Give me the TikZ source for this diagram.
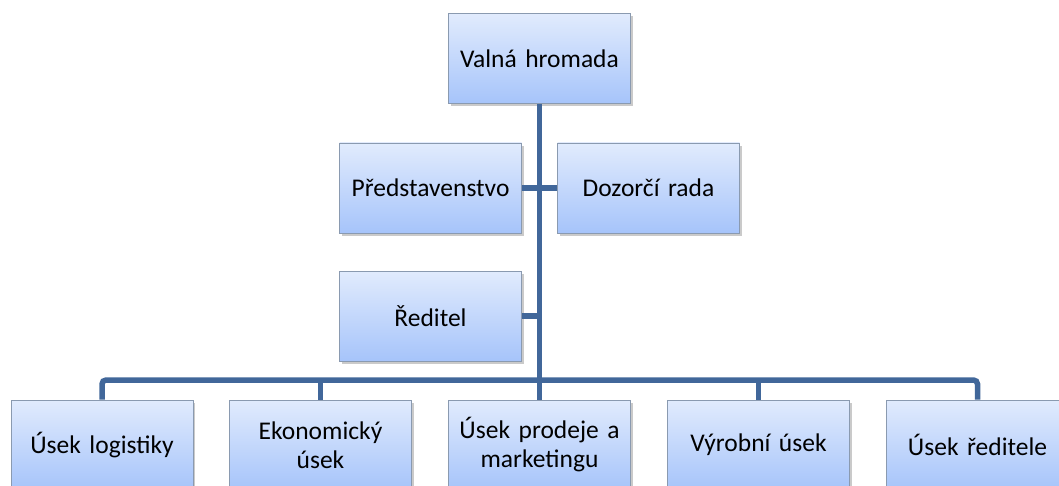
\documentclass[tikz,border=0pt]{standalone}
\usepackage{fontspec}
\setmainfont{Carlito}
\usetikzlibrary{shadows}
\definecolor{boxtop}{HTML}{E1EBFD}
\definecolor{boxbot}{HTML}{A6C4FA}
\definecolor{boxline}{HTML}{8A9AB0}
\definecolor{conn}{HTML}{41679A}
\tikzset{
  orgbox/.style={draw=boxline, line width=0.8pt, top color=boxtop, bottom color=boxbot,
    minimum width=181pt, minimum height=90pt, inner sep=2pt, align=center,
    text width=178pt, font=\fontsize{25.5}{29}\selectfont,
    drop shadow={shadow xshift=2pt, shadow yshift=-3pt, opacity=0.35, fill=black!60}},
  link/.style={draw=conn, line width=5.5pt}
}
\begin{document}
\begin{tikzpicture}[x=1pt,y=-1pt]
\useasboundingbox (0,0) rectangle (1059,486);
\clip (0,0) rectangle (1059,486);
\node[orgbox] (vh) at (539.5,58.5) {Valná hromada};
\node[orgbox] (pr) at (430.5,188) {Představenstvo};
\node[orgbox] (dr) at (648.5,188) {Dozorčí rada};
\node[orgbox] (re) at (430.5,316) {Ředitel};
\node[orgbox] (ul) at (102,445) {Úsek logistiky};
\node[orgbox] (eu) at (320.5,445) {Ekonomický\\úsek};
\node[orgbox] (up) at (539.5,445) {Úsek prodeje a\\marketingu};
\node[orgbox] (vu) at (758.5,445) {Výrobní úsek};
\node[orgbox] (ur) at (977.5,445) {Úsek ředitele};
\coordinate (bus) at (539.5,380);
\draw[link] (vh.south) -- (bus);
\draw[link] (pr.east) -- (dr.west);
\draw[link] (re.east) -- (re.east -| vh.south);
\draw[link, rounded corners=4pt] (ul.north) |- (bus) -| (ur.north);
\draw[link] (eu.north) -- (eu.north |- bus);
\draw[link] (up.north) -- (bus);
\draw[link] (vu.north) -- (vu.north |- bus);
\end{tikzpicture}
\end{document}
